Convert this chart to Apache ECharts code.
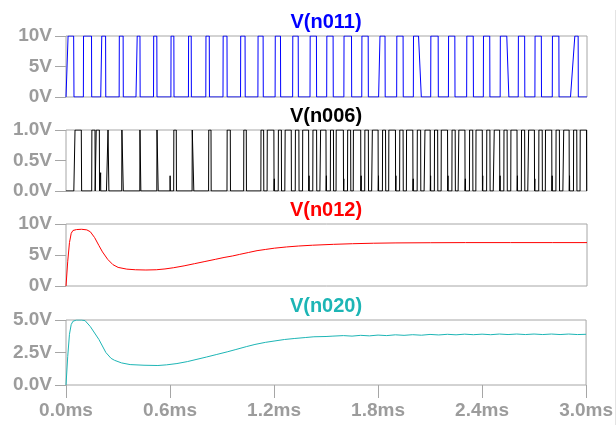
<!DOCTYPE html>
<html><head><meta charset="utf-8">
<script src="https://cdn.jsdelivr.net/npm/echarts@6/dist/echarts.min.js"></script>
<style>html,body{margin:0;padding:0;background:#fff}#c{width:616px;height:425px}</style>
</head><body><div id="c"></div>
<script>
// ---------------- data ----------------
const periodMs = 0.1;             // switching period
const xTicks = [0, 0.6, 1.2, 1.8, 2.4, 3.0];
const titles = ['V(n011)', 'V(n006)', 'V(n012)', 'V(n020)'];

// V(n011): per switching cycle [riseStart, riseEnd, fallStart, fallEnd] as fraction of period
const n011Edges = [
  [0.00,0.12,0.44,0.46],[0.00,0.01,0.47,0.48],[0.00,0.06,0.28,0.29],[0.06,0.07,0.29,0.30],
  [0.03,0.10,0.26,0.27],[0.04,0.05,0.23,0.24],[0.04,0.05,0.21,0.22],[0.05,0.06,0.21,0.22],
  [0.05,0.06,0.25,0.26],[0.04,0.05,0.27,0.28],[0.05,0.06,0.31,0.32],[0.05,0.06,0.35,0.36],
  [0.04,0.05,0.35,0.36],[0.05,0.06,0.37,0.38],[0.05,0.06,0.42,0.43],[0.01,0.02,0.38,0.39],
  [0.00,0.01,0.44,0.45],[0.03,0.04,0.40,0.41],[0.00,0.08,0.37,0.38],[0.04,0.05,0.41,0.42],
  [0.00,0.01,0.30,0.46],[0.00,0.01,0.43,0.44],[0.02,0.03,0.39,0.40],[0.07,0.08,0.45,0.46],
  [0.03,0.04,0.40,0.41],[0.00,0.01,0.38,0.50],[0.04,0.05,0.41,0.42],[0.00,0.01,0.37,0.38],
  [0.00,0.01,0.38,0.39],[0.05,0.30,0.49,0.50]
];

// V(n006): per cycle list of pulses [riseStart, riseEnd, fallStart, fallEnd] (fraction of period)
const n006Pulses = [
  [[0.45,0.52,0.88,0.90]],
  [[0.48,0.49,0.67,0.68],[0.73,0.74,0.92,0.93]],
  [[0.33,0.42,0.46,0.47]],
  [[0.21,0.22,0.29,0.30]],
  [[0.25,0.26,0.30,0.31]],
  [[0.23,0.24,0.30,0.31]],
  [[0.20,0.21,0.35,0.36]],
  [[0.26,0.27,0.35,0.36]],
  [[0.21,0.22,0.35,0.36]],
  [[0.27,0.28,0.46,0.47]],
  [[0.23,0.24,0.38,0.39]],
  [[0.22,0.23,0.38,0.39],[0.58,0.59,0.97,0.98]],
  [[0.22,0.23,0.40,0.41],[0.60,0.62,0.97,0.98]],
  [[0.20,0.21,0.41,0.42],[0.62,0.63,0.97,0.98]],
  [[0.21,0.22,0.43,0.44],[0.62,0.66,0.97,0.98]],
  [[0.22,0.23,0.40,0.41],[0.55,0.56,0.97,0.98]],
  [[0.21,0.22,0.39,0.40],[0.54,0.55,0.97,0.98]],
  [[0.20,0.21,0.41,0.42],[0.60,0.64,0.97,0.98]],
  [[0.22,0.23,0.40,0.41],[0.58,0.59,0.97,0.98]],
  [[0.21,0.22,0.41,0.42],[0.60,0.61,0.97,0.98]],
  [[0.22,0.23,0.42,0.43],[0.62,0.67,0.97,0.98]],
  [[0.21,0.22,0.40,0.41],[0.60,0.61,0.97,0.98]],
  [[0.22,0.23,0.41,0.42],[0.58,0.62,0.97,0.98]],
  [[0.23,0.24,0.42,0.43],[0.60,0.61,0.97,0.98]],
  [[0.22,0.23,0.41,0.42],[0.60,0.66,0.97,0.98]],
  [[0.21,0.22,0.40,0.41],[0.61,0.62,0.97,0.98]],
  [[0.22,0.23,0.41,0.42],[0.59,0.64,0.97,0.98]],
  [[0.22,0.23,0.42,0.43],[0.60,0.61,0.97,0.98]],
  [[0.21,0.22,0.41,0.42],[0.61,0.66,0.97,0.98]],
  [[0.22,0.23,0.41,0.42],[0.60,0.61,0.97,0.98]]
];
// short spike (height in V) just before the end of each cycle, 0 = none
const n006Spike = [0,0.3,0,0,0,0.25,0,0,0,0,0,0.2,0,0.25,0.25,0.2,0.25,0.25,0.25,0.2,
                   0.25,0.25,0.2,0.25,0.25,0.25,0.2,0.25,0.25,0];

// V(n012) samples (ms, V)
const n012Time = [0,0.01,0.02,0.03,0.04,0.06,0.09,0.12,0.14,0.165,0.19,0.21,0.24,0.27,0.30,0.35,0.40,0.46,0.52,0.57,0.62,0.68,0.74,0.80,0.86,0.91,0.96,1.00,1.05,1.10,1.15,1.20,1.27,1.34,1.42,1.54,1.65,1.77,1.90,2.10,2.30,2.56,2.80,3.00];
const n012Volt = [0,4.0,7.0,8.5,8.95,9.1,9.15,9.05,8.75,7.8,6.5,5.5,4.3,3.45,3.0,2.72,2.62,2.58,2.62,2.75,2.95,3.25,3.6,3.95,4.3,4.6,4.85,5.1,5.4,5.7,5.9,6.1,6.3,6.45,6.58,6.72,6.82,6.9,6.95,6.98,7.0,7.0,7.0,7.0];

// V(n020) samples (ms, V)
const n020Time = [0,0.01,0.02,0.03,0.04,0.06,0.09,0.11,0.14,0.165,0.19,0.21,0.23,0.26,0.28,0.32,0.37,0.45,0.53,0.58,0.64,0.70,0.75,0.81,0.87,0.93,0.98,1.04,1.09,1.15,1.20,1.26,1.32,1.38,1.43,1.50,1.54,
  1.60,1.65,1.70,1.75,1.80,1.85,1.90,1.95,2.00,2.05,2.10,2.15,2.20,2.25,2.30,2.35,2.40,2.45,2.50,2.55,2.60,2.65,2.70,2.75,2.80,2.85,2.90,2.95,3.00];
const n020Volt = [0,2.2,3.9,4.65,4.9,5.0,5.0,4.95,4.5,4.0,3.5,3.0,2.5,2.05,1.9,1.7,1.57,1.52,1.5,1.55,1.65,1.8,1.96,2.15,2.35,2.55,2.73,2.95,3.12,3.28,3.38,3.5,3.58,3.65,3.71,3.73,3.76,
  3.80,3.76,3.82,3.78,3.84,3.80,3.86,3.82,3.87,3.83,3.89,3.85,3.90,3.86,3.91,3.87,3.91,3.87,3.92,3.88,3.92,3.88,3.92,3.88,3.92,3.88,3.92,3.88,3.90];

// ---------------- build ----------------
function buildN011() {
  const d = [[0, 0]];
  n011Edges.forEach((e, k) => {
    const t0 = k * periodMs;
    d.push([t0 + e[0] * periodMs, 0], [t0 + e[1] * periodMs, 10],
           [t0 + e[2] * periodMs, 10], [t0 + e[3] * periodMs, 0]);
  });
  d.push([3, 0]);
  return d;
}
function buildN006() {
  const d = [[0, 0]];
  n006Pulses.forEach((list, k) => {
    const t0 = k * periodMs;
    list.forEach(e => {
      d.push([t0 + e[0] * periodMs, 0], [t0 + e[1] * periodMs, 1],
             [t0 + e[2] * periodMs, 1], [t0 + e[3] * periodMs, 0]);
    });
    if (n006Spike[k] > 0) {
      const ts = t0 + 0.995 * periodMs;
      d.push([ts, 0], [ts, n006Spike[k]], [ts + 0.0005, 0]);
    }
  });
  d.push([3, 0]);
  return d;
}
const zip = (a, b) => a.map((t, i) => [t, b[i]]);

const gridTops = [36, 130, 224, 320];
const gridHeights = [61, 61, 62, 65];
const yRanges = [[0, 10, 5], [0, 1, 0.5], [0, 10, 5], [0, 5, 2.5]];
const yFmt = [v => v + 'V', v => v.toFixed(1) + 'V', v => v + 'V', v => v.toFixed(1) + 'V'];
const colors = ['#0000ff', '#000000', '#ff0000', '#1db5b5'];
const gray = '#a6a6a6';
const labelGray = '#9c9c9c';
const FONT = '"Liberation Sans", Arial, sans-serif';

const chart = echarts.init(document.getElementById('c'), null, {renderer: 'canvas'});
const grids = [], xAxes = [], yAxes = [], series = [], graphics = [];
const datas = [buildN011(), buildN006(), zip(n012Time, n012Volt), zip(n020Time, n020Volt)];

for (let i = 0; i < 4; i++) {
  grids.push({left: 66, top: gridTops[i], width: 521, height: gridHeights[i],
              show: true, borderColor: gray, borderWidth: 1, backgroundColor: 'transparent'});
  const last = i === 3;
  xAxes.push({
    gridIndex: i, type: 'value', min: 0, max: 3, interval: 0.6,
    show: last,
    axisLine: {show: false},
    axisTick: {show: last, length: 13, lineStyle: {color: gray}},
    splitLine: {show: false},
    axisLabel: {show: last, color: labelGray, fontSize: 19, fontWeight: 'bold', fontFamily: FONT,
                margin: 16, formatter: v => v.toFixed(1) + 'ms'}
  });
  yAxes.push({
    gridIndex: i, type: 'value', min: yRanges[i][0], max: yRanges[i][1], interval: yRanges[i][2],
    axisLine: {show: false},
    axisTick: {show: true, length: 11, lineStyle: {color: gray}},
    splitLine: {show: false},
    axisLabel: {color: labelGray, fontSize: 19, fontWeight: 'bold', fontFamily: FONT, margin: 14,
                formatter: yFmt[i]}
  });
  series.push({
    type: 'line', xAxisIndex: i, yAxisIndex: i, data: datas[i], showSymbol: false, symbol: 'none',
    lineStyle: {color: colors[i], width: 1}, animation: false, silent: true, clip: true
  });
  graphics.push({
    type: 'text', x: 326, y: gridTops[i] - 14,
    style: {text: titles[i], fill: colors[i], font: 'bold 20px ' + FONT,
            textAlign: 'center', textVerticalAlign: 'middle'}
  });
}
graphics.push({type: 'line', shape: {x1: 615.5, y1: 10, x2: 615.5, y2: 425},
               style: {stroke: '#e4e4e4', lineWidth: 1}});

chart.setOption({
  animation: false,
  grid: grids, xAxis: xAxes, yAxis: yAxes, series: series, graphic: graphics
});
</script>
</body></html>
